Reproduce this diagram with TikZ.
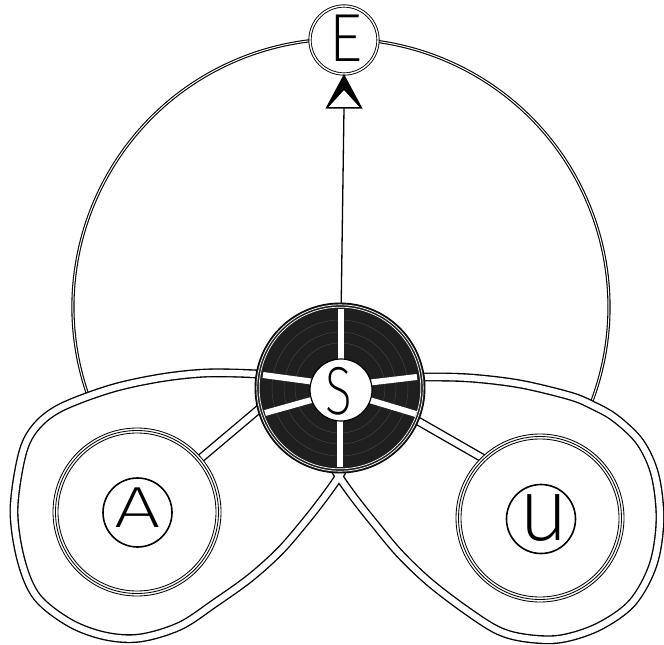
\documentclass[tikz,border=0pt]{standalone}
\usepackage{fontspec}
\usepackage{graphicx}
\newfontfamily\lsf{Fira Sans ExtraLight}
\usetikzlibrary{calc}
\pgfdeclarelayer{background}
\pgfsetlayers{background,main}
\begin{document}
\begin{tikzpicture}[x=1pt,y=-1pt,
  every node/.style={inner sep=0pt, outer sep=0pt},
  strand/.style={draw=black, line width=1.35pt, double=white, double distance=6.2pt},
  bigarc/.style={draw=black, line width=1.1pt, double=white, double distance=1pt},
  ringline/.style={draw=black, line width=0.85pt},
  disk/.style={circle, minimum size=170pt, fill=black!88, draw=black, line width=0.9pt},
  hub/.style={circle, minimum size=62pt, fill=white, draw=black, line width=1.2pt},
  outercircle/.style={circle, minimum size=168pt, fill=white, draw=black, line width=0.85pt},
  lettercircle/.style={circle, minimum size=69pt, draw=black, line width=1.6pt},
  ecircle/.style={circle, minimum size=68pt, fill=white, draw=black, line width=0.9pt, double=white, double distance=1.4pt},
  letter/.style={font=\lsf\fontsize{68}{68}\selectfont},
  spoke/.style={draw=white, line width=6pt},
  shaft/.style={draw=black, line width=1.3pt},
]
\useasboundingbox (0,0) rectangle (664,645);

% central disk
\node[disk] (S) at (340,388) {};
\draw[white, line width=0.7pt] (S) circle[radius=83.2] (S) circle[radius=80.8];
\draw[black!74, line width=0.5pt] (S) circle[radius=68] (S) circle[radius=56] (S) circle[radius=45];
\draw[spoke] (341,309) -- (341,365);
\draw[spoke] (340,467) -- (340,415);
\draw[spoke] (263,375) -- (315,382);
\draw[spoke] (265,413) -- (315,399);
\draw[spoke] (417,377) -- (366,383);
\draw[spoke] (416,414) -- (366,399);
\node[hub] (Sh) at (341,390) {};
\node[letter] (tS) at (339,391.5) {\scalebox{0.73}[1]{S}};

% A and U
\node[outercircle] (A) at (137,512) {};
\draw[ringline] (A) circle[radius=81.5] (A) circle[radius=79];
\node[lettercircle] (Al) at (137.5,512.5) {};
\node[font=\lsf\fontsize{58}{58}\selectfont] (tA) at (137.5,508) {\scalebox{1.42}[1]{A}};

\node[outercircle] (U) at (540,518) {};
\draw[ringline] (U) circle[radius=81.5] (U) circle[radius=79];
\node[lettercircle] (Ul) at (541,519) {};
\node[font=\lsf\fontsize{88}{88}\selectfont] (tU) at (544,518) {u};

% E
\node[ecircle] (E) at (344,40) {};
\node[letter] (tE) at (345.5,38.5) {E};

% arrow S -> E
\draw[shaft] (S) -- ($(E.south)+(0,34)$);
\fill[black, even odd rule] (E.south) -- ++(-18.5,34.5) -- ++(37,0) -- cycle
  ($(E.south)+(0,16)$) -- ++(-15.5,17) -- ++(31,0) -- cycle;

\begin{pgfonlayer}{background}
  \coordinate (O) at (341,307);
  \draw[bigarc] ($(O)+(160:268)$) arc[start angle=160, end angle=382, radius=268];
  \draw[strand]
    plot[smooth, tension=0.55] coordinates {(290,377) (258,374) (207,373) (160,378) (110,389) (60,408) (35,428) (22,455) (14,510) (21,560) (37,597) (70,623) (105,636) (140,638) (180,626) (215,603) (250,578) (280,551) (305,522) (323,499) (338,478) (350,458)}
    plot[smooth, tension=0.55] coordinates {(390,378) (425,377) (470,378) (520,384) (570,396) (592,405) (615,418) (640,442) (655,475) (660,520) (653,565) (632,603) (598,627) (560,639) (525,638) (497,630) (463,608) (428,581) (399,553) (374,523) (355,499) (340,478) (328,458)}
    (A.center) -- ($(S.195.7)!-8pt!(A.center)$)
    ($(U.134.5)!-8pt!(S.337.1)$) -- ($(S.337.1)!-8pt!(U.134.5)$);
\end{pgfonlayer}
\end{tikzpicture}
\end{document}
